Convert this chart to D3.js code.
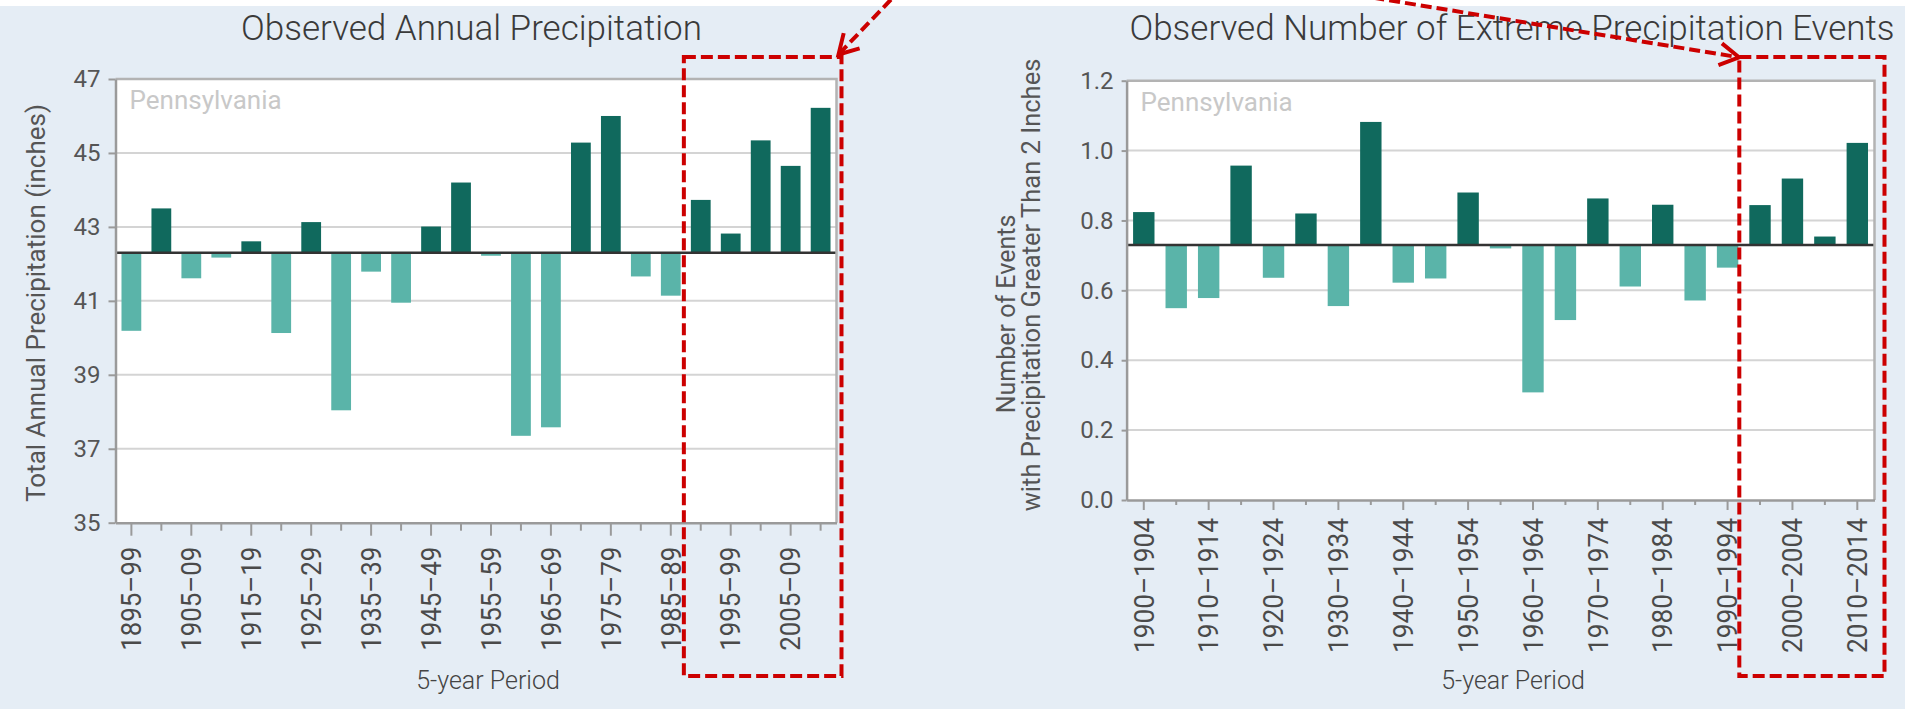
<!DOCTYPE html>
<html lang="en">
<head>
<meta charset="UTF-8" />
<title>Observed Precipitation – Pennsylvania</title>
<script src="https://cdn.jsdelivr.net/npm/d3@7"></script>
<style>
  body { margin: 0; background: #fff; }
  svg { display: block; font-family: Roboto, "Noto Sans", sans-serif; }
</style>
</head>
<body>
<script>
// ---- data ----
const annualPeriods = [
  "1895–99", "1900–04", "1905–09", "1910–14", "1915–19", "1920–24",
  "1925–29", "1930–34", "1935–39", "1940–44", "1945–49", "1950–54",
  "1955–59", "1960–64", "1965–69", "1970–74", "1975–79", "1980–84",
  "1985–89", "1990–94", "1995–99", "2000–04", "2005–09", "2010–14"
];
const annualValues = [
  40.19, 43.50, 41.61, 42.17, 42.61, 40.13,
  43.13, 38.04, 41.79, 40.95, 43.01, 44.20,
  42.22, 37.35, 37.58, 45.28, 46.00, 41.66,
  41.14, 43.73, 42.82, 45.34, 44.65, 46.22
];
const annualBaseline = 42.3;
const annualTicks = [35, 37, 39, 41, 43, 45, 47];

const eventPeriods = [
  "1900–1904", "1905–1909", "1910–1914", "1915–1919", "1920–1924",
  "1925–1929", "1930–1934", "1935–1939", "1940–1944", "1945–1949",
  "1950–1954", "1955–1959", "1960–1964", "1965–1969", "1970–1974",
  "1975–1979", "1980–1984", "1985–1989", "1990–1994", "1995–1999",
  "2000–2004", "2005–2009", "2010–2014"
];
const eventValues = [
  0.824, 0.549, 0.578, 0.957, 0.636,
  0.820, 0.555, 1.082, 0.622, 0.634,
  0.880, 0.720, 0.308, 0.515, 0.863,
  0.611, 0.845, 0.571, 0.665, 0.844,
  0.920, 0.754, 1.022
];
const eventBaseline = 0.73;
const eventTicks = [0, 0.2, 0.4, 0.6, 0.8, 1.0, 1.2];

const width = 1905;
const height = 709;
const darkBar = "#10695d";
const lightBar = "#5ab4a9";
const red = "#cc0000";

const svg = d3.select("body")
  .append("svg")
  .attr("width", width)
  .attr("height", height);

svg.append("rect")
  .attr("x", 0)
  .attr("y", 6)
  .attr("width", width)
  .attr("height", height - 6)
  .attr("fill", "#e5edf5");

function drawPanel(opt) {
  const g = svg.append("g");
  const x = d3.scaleBand()
    .domain(opt.periods)
    .range([opt.left, opt.right])
    .paddingInner(0.34)
    .paddingOuter(0.2);
  const y = d3.scaleLinear()
    .domain(d3.extent(opt.ticks))
    .range([opt.bottom, opt.top]);

  g.append("rect")
    .attr("x", opt.left)
    .attr("y", opt.top)
    .attr("width", opt.right - opt.left)
    .attr("height", opt.bottom - opt.top)
    .attr("fill", "#fff");

  // grid lines
  g.append("g")
    .selectAll("line")
    .data(opt.ticks.slice(1, -1))
    .join("line")
    .attr("x1", opt.left)
    .attr("x2", opt.right)
    .attr("y1", d => y(d))
    .attr("y2", d => y(d))
    .attr("stroke", "#d4d4d4")
    .attr("stroke-width", 2);

  // bars hang from the baseline
  g.append("g")
    .selectAll("rect")
    .data(opt.values)
    .join("rect")
    .attr("x", (d, i) => x(opt.periods[i]))
    .attr("width", x.bandwidth())
    .attr("y", d => y(Math.max(d, opt.base)))
    .attr("height", d => Math.abs(y(d) - y(opt.base)))
    .attr("fill", d => (d >= opt.base ? darkBar : lightBar));

  g.append("line")
    .attr("x1", opt.left)
    .attr("x2", opt.right)
    .attr("y1", y(opt.base))
    .attr("y2", y(opt.base))
    .attr("stroke", "#333")
    .attr("stroke-width", 2.5);

  // frame top + right
  g.append("path")
    .attr("d", `M${opt.left},${opt.top}H${opt.right}V${opt.bottom}`)
    .attr("fill", "none")
    .attr("stroke", "#b3b3b3")
    .attr("stroke-width", 2.5);

  const yAxis = g.append("g")
    .attr("transform", `translate(${opt.left},0)`)
    .call(d3.axisLeft(y)
      .tickValues(opt.ticks)
      .tickFormat(opt.fmt)
      .tickSizeInner(opt.yTick)
      .tickSizeOuter(0)
      .tickPadding(8));

  const xAxis = g.append("g")
    .attr("transform", `translate(0,${opt.bottom})`)
    .call(d3.axisBottom(x)
      .tickSizeInner(opt.tickMajor)
      .tickSizeOuter(0)
      .tickFormat((d, i) => (i % 2 === 0 ? d : "")));

  xAxis.selectAll(".tick line")
    .filter((d, i) => i % 2 === 1)
    .attr("y2", opt.tickMinor);

  xAxis.selectAll(".tick text")
    .filter((d, i) => i % 2 === 0)
    .attr("transform", "rotate(-90)")
    .attr("text-anchor", "end")
    .attr("x", -opt.labelOffset)
    .attr("y", 0)
    .attr("dy", "0.36em")
    .attr("textLength", opt.labelLength)
    .attr("lengthAdjust", "spacingAndGlyphs")
    .style("font-size", "27px");

  [yAxis, xAxis].forEach(a => {
    a.attr("font-family", null).attr("font-size", null);
    a.select(".domain").attr("stroke", "#9a9a9a").attr("stroke-width", 2.5);
    a.selectAll(".tick line").attr("stroke", "#9a9a9a").attr("stroke-width", 2);
    a.selectAll(".tick text").attr("fill", "#4a4a4a");
  });
  yAxis.selectAll(".tick text").style("font-size", "24px").attr("fill", "#555");

  g.append("text")
    .attr("x", opt.left + 14)
    .attr("y", opt.top + 30)
    .attr("fill", "#c8c8c8")
    .style("font-size", "26px")
    .text("Pennsylvania");

  g.append("text")
    .attr("x", opt.titleX)
    .attr("y", 40)
    .attr("text-anchor", "middle")
    .attr("fill", "#3a3a3a")
    .style("font-size", "35px")
    .style("font-weight", 300)
    .text(opt.title);

  g.append("text")
    .attr("x", opt.xTitleX)
    .attr("y", 689)
    .attr("text-anchor", "middle")
    .attr("fill", "#444")
    .style("font-size", "25px")
    .style("font-weight", 300)
    .text("5-year Period");

  opt.yTitle.forEach(t => {
    g.append("text")
      .attr("transform", `translate(${t.x},${t.y}) rotate(-90)`)
      .attr("text-anchor", "middle")
      .attr("dy", "0.35em")
      .attr("fill", "#555")
      .style("font-size", t.size + "px")
      .text(t.text);
  });

  // red dashed highlight box, from the first highlighted band to past the frame
  const bx = x(opt.periods[opt.boxFrom]) - opt.boxPad;
  g.append("rect")
    .attr("x", bx)
    .attr("y", 57)
    .attr("width", opt.right + opt.boxRight - bx)
    .attr("height", 619)
    .attr("fill", "none")
    .attr("stroke", red)
    .attr("stroke-width", 4)
    .attr("stroke-dasharray", "12,5");

  return { x, y };
}

drawPanel({
  periods: annualPeriods,
  values: annualValues,
  base: annualBaseline,
  ticks: annualTicks,
  fmt: d3.format("d"),
  left: 115.5, right: 836.5, top: 79, bottom: 522.7,
  yTick: 7, tickMajor: 13, tickMinor: 8, labelOffset: 24, labelLength: 104,
  title: "Observed Annual Precipitation",
  titleX: 471.5,
  xTitleX: 488,
  yTitle: [{ text: "Total Annual Precipitation (inches)", x: 36, y: 303, size: 26 }],
  boxFrom: 19, boxPad: 7, boxRight: 5
});

drawPanel({
  periods: eventPeriods,
  values: eventValues,
  base: eventBaseline,
  ticks: eventTicks,
  fmt: d3.format(".1f"),
  left: 1126.6, right: 1874.5, top: 80.7, bottom: 500,
  yTick: 5, tickMajor: 10, tickMinor: 5, labelOffset: 18, labelLength: 135,
  title: "Observed Number of Extreme Precipitation Events",
  titleX: 1512,
  xTitleX: 1513,
  yTitle: [
    { text: "Number of Events", x: 1006, y: 314, size: 25 },
    { text: "with Precipitation Greater Than 2 Inches", x: 1031, y: 285, size: 25.5 }
  ],
  boxFrom: 19, boxPad: 10, boxRight: 10
});

// dashed arrows coming in from above the picture
function arrow(x0, y0, x1, y1) {
  svg.append("line")
    .attr("x1", x0).attr("y1", y0)
    .attr("x2", x1).attr("y2", y1)
    .attr("stroke", red)
    .attr("stroke-width", 4)
    .attr("stroke-dasharray", "11,5");
  const a = Math.atan2(y0 - y1, x0 - x1);
  const len = 22;
  const pts = [a + Math.PI / 6, a - Math.PI / 6].map(t => [x1 + len * Math.cos(t), y1 + len * Math.sin(t)]);
  svg.append("path")
    .attr("d", `M${pts[0]}L${x1},${y1}L${pts[1]}`)
    .attr("fill", "none")
    .attr("stroke", red)
    .attr("stroke-width", 4);
}
arrow(902, -12, 838.5, 54.5);
arrow(1326, -10, 1739, 57.3);
</script>
</body>
</html>
